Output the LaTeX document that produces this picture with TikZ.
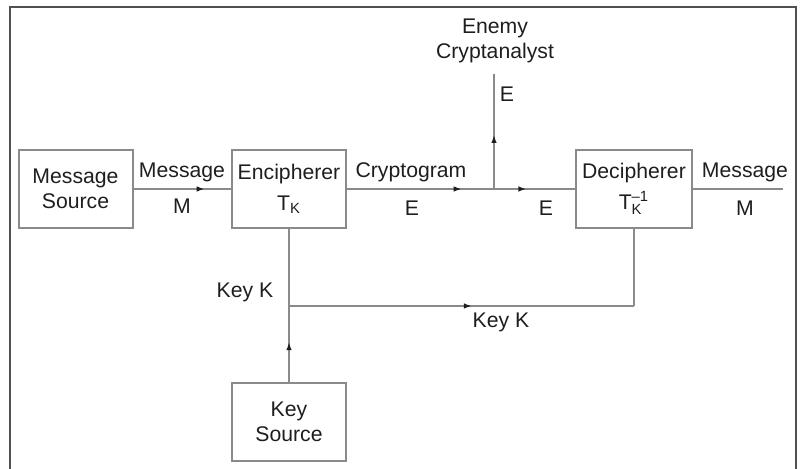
\documentclass[tikz,border=0pt]{standalone}
\usepackage{fontspec}
\setmainfont{Liberation Sans}
\usetikzlibrary{arrows.meta,decorations.markings}
\definecolor{linegray}{HTML}{8A8A8A}
\definecolor{framegray}{HTML}{505050}
\definecolor{txt}{HTML}{1E1E1E}
\newcommand{\smalltxt}[1]{\hbox{\fontsize{7.4}{8}\selectfont #1}}
\begin{document}
\begin{tikzpicture}[x=0.5pt,y=-0.5pt,
  every node/.style={text=txt,font=\fontsize{10.6}{12.5}\selectfont},
  blockbox/.style={draw=linegray,line width=1pt,minimum width=57pt,minimum height=39pt,align=center,inner sep=0pt},
  conn/.style={draw=linegray,line width=1pt},
  midarrow/.style={postaction={decorate},decoration={markings,mark=at position #1 with {\arrow[txt]{Latex[length=4pt,width=2.8pt]}}}},
  lbl/.style={inner sep=0pt}
]
\useasboundingbox (0,0) rectangle (800,469);
% frame
\draw[framegray,line width=1pt] (10,469) -- (10,7) -- (796,7) -- (796,469);
% blocks
\node[blockbox] (ms) at (75.5,189) {Message\\Source};
\node[blockbox] (enc) at (289,189) {Encipherer\\[3pt]T$_{\smalltxt{K}}$};
\node[blockbox,minimum width=58pt] (dec) at (634,189) {Decipherer\\[3pt]T$_{\smalltxt{K}}^{\smalltxt{–1}}$};
\node[blockbox] (ks) at (289,422) {Key\\Source};
% coordinates
\coordinate (br) at (494,189);
\coordinate (ea) at (494,74);
\coordinate (mout) at (783,189);
\coordinate (kj) at (289,306);
\coordinate (kc) at (634,306);
% connectors
\draw[conn,midarrow=0.73] (ms.east) -- (enc.west);
\draw[conn,midarrow=0.78] (enc.east) -- (br);
\draw[conn,midarrow=0.40] (br) -- (dec.west);
\draw[conn,midarrow=0.47] (br) -- (ea);
\draw[conn] (dec.east) -- (mout);
\draw[conn,midarrow=0.26] (ks.north) -- (enc.south);
\draw[conn,midarrow=0.53] (kj) -- (kc);
\draw[conn] (kc) -- (dec.south);
% labels
\node[lbl] at (182,172) {Message};
\node[lbl] at (182,206) {M};
\node[lbl] at (411,172) {Cryptogram};
\node[lbl] at (412,208) {E};
\node[lbl] at (546,208) {E};
\node[lbl] at (745,172) {Message};
\node[lbl] at (745,208) {M};
\node[lbl,align=center] at (495,41) {Enemy\\Cryptanalyst};
\node[lbl] at (507,94) {E};
\node[lbl] at (245,292) {Key K};
\node[lbl] at (501,322) {Key K};
\end{tikzpicture}
\end{document}
